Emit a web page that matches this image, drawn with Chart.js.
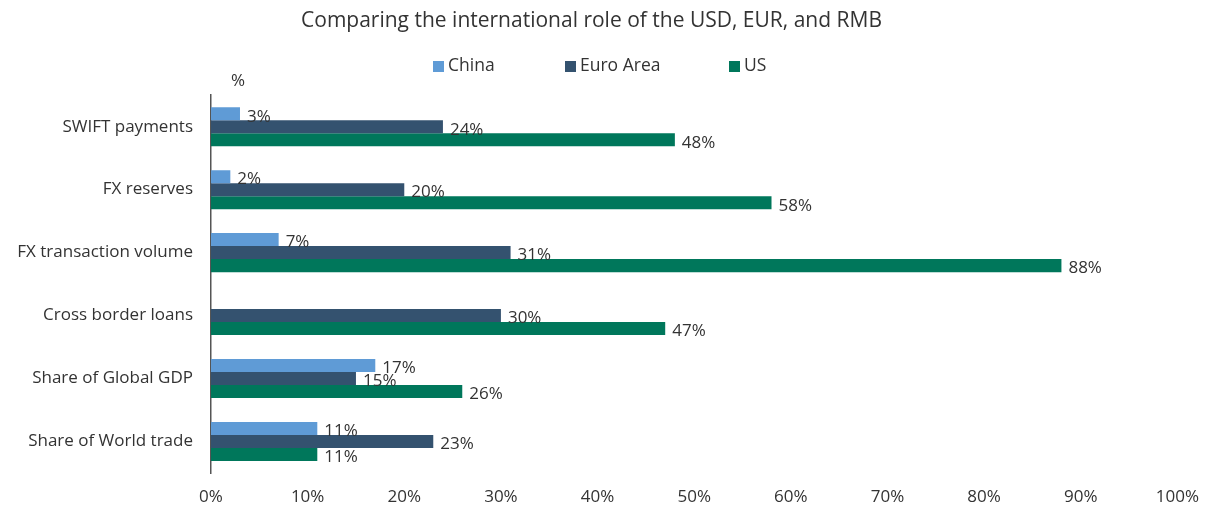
<!DOCTYPE html>
<html>
<head>
<meta charset="utf-8">
<script src="https://cdn.jsdelivr.net/npm/chart.js@4.4.1/dist/chart.umd.min.js"></script>
<style>
  html, body { margin: 0; padding: 0; background: #fff; }
  #wrap { width: 1205px; height: 508px; }
</style>
</head>
<body>
<div id="wrap"><canvas id="chart" width="1205" height="508"></canvas></div>
<script>
// data
const categories = ['SWIFT payments', 'FX reserves', 'FX transaction volume', 'Cross border loans', 'Share of Global GDP', 'Share of World trade'];
const china = [3, 2, 7, null, 17, 11];
const euroArea = [24, 20, 31, 30, 15, 23];
const us = [48, 58, 88, 47, 26, 11];
const seriesNames = ['China', 'Euro Area', 'US'];
const seriesColors = ['#5f9bd6', '#34526f', '#00775b'];

const textColor = '#333333';
const fontFamily = '"Open Sans", "Noto Sans", sans-serif';

// value labels to the right of each bar
const valueLabels = {
  id: 'valueLabels',
  afterDatasetsDraw(chart) {
    const ctx = chart.ctx;
    ctx.save();
    ctx.font = '17px ' + fontFamily;
    ctx.fillStyle = textColor;
    ctx.textAlign = 'left';
    ctx.textBaseline = 'middle';
    chart.data.datasets.forEach((ds, i) => {
      const meta = chart.getDatasetMeta(i);
      meta.data.forEach((bar, j) => {
        const v = ds.data[j];
        if (v === null || v === undefined) return;
        ctx.fillText(v + '%', bar.x + 7, bar.y + 3);
      });
    });
    ctx.restore();
  }
};

// legend row and the % unit label
const topLabels = {
  id: 'topLabels',
  afterDraw(chart) {
    const ctx = chart.ctx;
    ctx.save();
    ctx.font = '17.5px ' + fontFamily;
    ctx.textBaseline = 'middle';
    ctx.textAlign = 'left';
    const xs = [433, 565, 729];
    const y = 66;
    seriesNames.forEach((name, i) => {
      ctx.fillStyle = seriesColors[i];
      ctx.fillRect(xs[i], y - 5, 11, 11);
      ctx.fillStyle = textColor;
      ctx.fillText(name, xs[i] + 15, y);
    });
    ctx.font = '17px ' + fontFamily;
    ctx.fillText('%', 231, 81);
    ctx.restore();
  }
};

new Chart(document.getElementById('chart'), {
  type: 'bar',
  data: {
    labels: categories,
    datasets: [
      { label: seriesNames[0], data: china, backgroundColor: seriesColors[0] },
      { label: seriesNames[1], data: euroArea, backgroundColor: seriesColors[1] },
      { label: seriesNames[2], data: us, backgroundColor: seriesColors[2] }
    ]
  },
  options: {
    indexAxis: 'y',
    responsive: false,
    animation: false,
    barPercentage: 1,
    categoryPercentage: 0.62,
    layout: { padding: { left: 0, right: 22, top: 0, bottom: 0 } },
    plugins: {
      legend: { display: false },
      tooltip: { enabled: false },
      title: {
        display: true,
        text: 'Comparing the international role of the USD, EUR, and RMB',
        color: textColor,
        font: { family: fontFamily, size: 21, weight: 'normal' },
        padding: { top: 8, bottom: 62 }
      }
    },
    scales: {
      x: {
        min: 0,
        max: 100,
        ticks: {
          stepSize: 10,
          color: textColor,
          font: { family: fontFamily, size: 17 },
          padding: 6,
          callback: v => v + '%'
        },
        grid: { display: false },
        border: { display: false },
        afterFit(scale) { scale.height = 35; }
      },
      y: {
        ticks: {
          color: textColor,
          font: { family: fontFamily, size: 17 },
          padding: 10
        },
        grid: { display: false },
        border: { display: true, color: '#555', width: 1.5 },
        afterFit(scale) { scale.width = 211; }
      }
    }
  },
  plugins: [valueLabels, topLabels]
});
</script>
</body>
</html>
